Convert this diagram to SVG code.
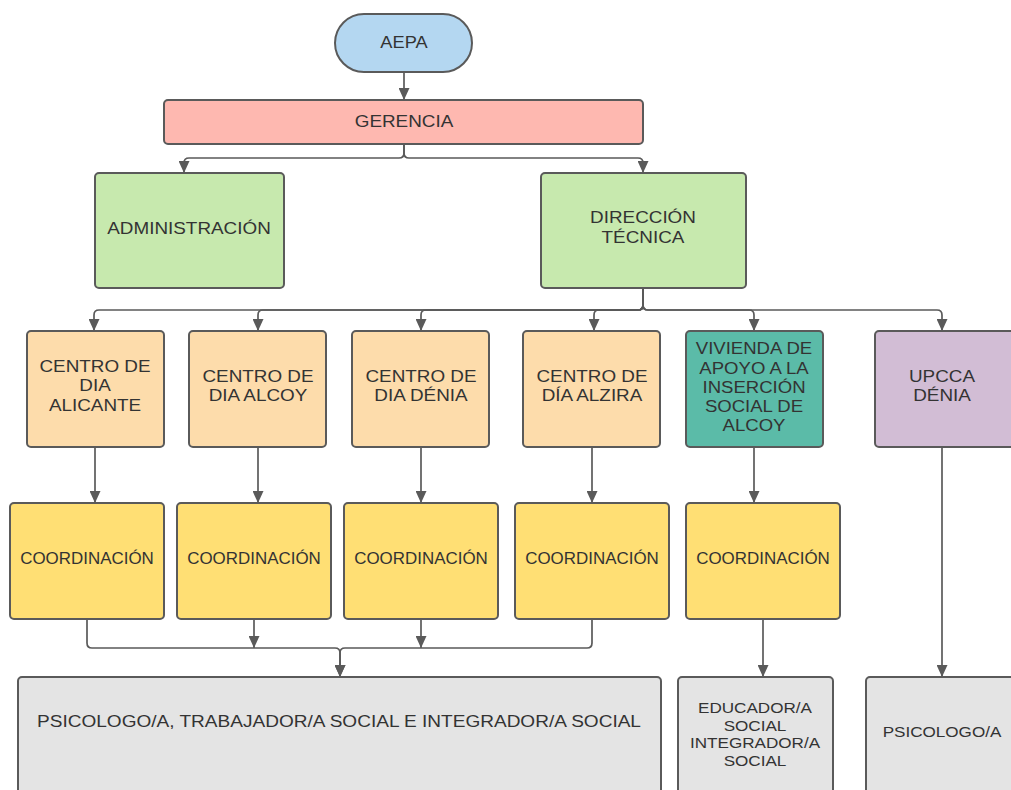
<svg xmlns="http://www.w3.org/2000/svg" width="1011" height="790" viewBox="0 0 1011 790">
<defs>
<marker id="ah" markerUnits="userSpaceOnUse" markerWidth="12" markerHeight="11" refX="12" refY="5.5" orient="auto" viewBox="0 0 12 11">
<path d="M0,0 L12,5.5 L0,11 z" fill="#5a5a5a"/>
</marker>
<style>
.b{stroke:#5a5a5a;stroke-width:2}
.blue{fill:#b4d7f1}
.pink{fill:#feb8b0}
.green{fill:#c7e9ae}
.peach{fill:#fddcab}
.teal{fill:#5bbba8}
.lilac{fill:#d2bdd5}
.yel{fill:#ffdf74}
.gray{fill:#e4e4e4}
.t{font-family:"Liberation Sans",Arial,sans-serif;font-size:16px;fill:#333;text-anchor:middle}
.s{font-size:15px}
.c{fill:none;stroke:#5a5a5a;stroke-width:1.7}
.a{marker-end:url(#ah)}
</style>
</defs>
<rect width="1011" height="790" fill="#fff"/>
<g id="connectors">
<path class="c a" d="M404,72 L404,100"/>
<path class="c a" d="M404,144 L404,153 Q404,158 399,158 L189,158 Q184,158 184,163 L184,173"/>
<path class="c a" d="M404,144 L404,153 Q404,158 409,158 L638,158 Q643,158 643,163 L643,173"/>
<path class="c a" d="M643,288 L643,305 Q643,310 638,310 L99,310 Q94,310 94,315 L94,331"/>
<path class="c a" d="M643,288 L643,305 Q643,310 638,310 L263,310 Q258,310 258,315 L258,331"/>
<path class="c a" d="M643,288 L643,305 Q643,310 638,310 L426,310 Q421,310 421,315 L421,331"/>
<path class="c a" d="M643,288 L643,305 Q643,310 638,310 L599,310 Q594,310 594,315 L594,331"/>
<path class="c a" d="M643,288 L643,305 Q643,310 648,310 L749,310 Q754,310 754,315 L754,331"/>
<path class="c a" d="M643,288 L643,305 Q643,310 648,310 L937,310 Q942,310 942,315 L942,331"/>
<path class="c a" d="M95,447 L95,503"/>
<path class="c a" d="M258,447 L258,503"/>
<path class="c a" d="M421,447 L421,503"/>
<path class="c a" d="M592,447 L592,503"/>
<path class="c a" d="M754,447 L754,503"/>
<path class="c a" d="M942,447 L942,677"/>
<path class="c a" d="M87,619 L87,643 Q87,648 92,648 L335,648 Q340,648 340,653 L340,677"/>
<path class="c a" d="M592,619 L592,643 Q592,648 587,648 L345,648 Q340,648 340,653 L340,677"/>
<path class="c a" d="M254,619 L254,648"/>
<path class="c a" d="M421,619 L421,648"/>
<path class="c a" d="M763,619 L763,677"/>
</g>
<g id="aepa"><rect class="b blue" x="335" y="14" width="137" height="58" rx="29"/><text class="t" transform="translate(404,48) scale(1.14,1)">AEPA</text></g>
<g id="gerencia"><rect class="b pink" x="164" y="100" width="479" height="44" rx="4"/><text class="t" transform="translate(404,127) scale(1.18,1)">GERENCIA</text></g>
<g id="administracion"><rect class="b green" x="95" y="173" width="189" height="115" rx="4"/><text class="t" transform="translate(189,234) scale(1.18,1)">ADMINISTRACIÓN</text></g>
<g id="direccion"><rect class="b green" x="541" y="173" width="205" height="115" rx="4"/><text class="t" transform="translate(643,223) scale(1.18,1)">DIRECCIÓN</text><text class="t" transform="translate(643,243) scale(1.18,1)">TÉCNICA</text></g>
<g id="cd-alicante"><rect class="b peach" x="27" y="331" width="137" height="116" rx="4"/><text class="t" transform="translate(95,372) scale(1.18,1)">CENTRO DE</text><text class="t" transform="translate(95,391) scale(1.18,1)">DIA</text><text class="t" transform="translate(95,411) scale(1.18,1)">ALICANTE</text></g>
<g id="cd-alcoy"><rect class="b peach" x="189" y="331" width="137" height="116" rx="4"/><text class="t" transform="translate(258,382) scale(1.18,1)">CENTRO DE</text><text class="t" transform="translate(258,401) scale(1.18,1)">DIA ALCOY</text></g>
<g id="cd-denia"><rect class="b peach" x="352" y="331" width="137" height="116" rx="4"/><text class="t" transform="translate(421,382) scale(1.18,1)">CENTRO DE</text><text class="t" transform="translate(421,401) scale(1.18,1)">DIA DÉNIA</text></g>
<g id="cd-alzira"><rect class="b peach" x="523" y="331" width="137" height="116" rx="4"/><text class="t" transform="translate(592,382) scale(1.18,1)">CENTRO DE</text><text class="t" transform="translate(592,401) scale(1.18,1)">DÍA ALZIRA</text></g>
<g id="vivienda"><rect class="b teal" x="686" y="331" width="137" height="116" rx="4"/><text class="t" transform="translate(754,354) scale(1.16,1)">VIVIENDA DE</text><text class="t" transform="translate(754,374) scale(1.16,1)">APOYO A LA</text><text class="t" transform="translate(754,393) scale(1.16,1)">INSERCIÓN</text><text class="t" transform="translate(754,412) scale(1.16,1)">SOCIAL DE</text><text class="t" transform="translate(754,431) scale(1.16,1)">ALCOY</text></g>
<g id="upcca"><rect class="b lilac" x="875" y="331" width="140" height="116" rx="4"/><text class="t" transform="translate(942,382) scale(1.18,1)">UPCCA</text><text class="t" transform="translate(942,401) scale(1.18,1)">DÉNIA</text></g>
<g id="coord1"><rect class="b yel" x="10" y="503" width="154" height="116" rx="4"/><text class="t" transform="translate(87,564) scale(1.06,1)">COORDINACIÓN</text></g>
<g id="coord2"><rect class="b yel" x="177" y="503" width="154" height="116" rx="4"/><text class="t" transform="translate(254,564) scale(1.06,1)">COORDINACIÓN</text></g>
<g id="coord3"><rect class="b yel" x="344" y="503" width="154" height="116" rx="4"/><text class="t" transform="translate(421,564) scale(1.06,1)">COORDINACIÓN</text></g>
<g id="coord4"><rect class="b yel" x="515" y="503" width="154" height="116" rx="4"/><text class="t" transform="translate(592,564) scale(1.06,1)">COORDINACIÓN</text></g>
<g id="coord5"><rect class="b yel" x="686" y="503" width="154" height="116" rx="4"/><text class="t" transform="translate(763,564) scale(1.06,1)">COORDINACIÓN</text></g>
<g id="psico-trab"><rect class="b gray" x="18" y="677" width="643" height="125" rx="4"/><text class="t" transform="translate(339,727) scale(1.19,1)">PSICOLOGO/A, TRABAJADOR/A SOCIAL E INTEGRADOR/A SOCIAL</text></g>
<g id="educador"><rect class="b gray" x="678" y="677" width="155" height="125" rx="4"/><text class="t s" transform="translate(755,713) scale(1.14,1)">EDUCADOR/A</text><text class="t s" transform="translate(755,731) scale(1.14,1)">SOCIAL</text><text class="t s" transform="translate(755,748) scale(1.14,1)">INTEGRADOR/A</text><text class="t s" transform="translate(755,766) scale(1.14,1)">SOCIAL</text></g>
<g id="psicologo"><rect class="b gray" x="866" y="677" width="150" height="125" rx="4"/><text class="t s" transform="translate(942,737) scale(1.14,1)">PSICOLOGO/A</text></g>
</svg>
